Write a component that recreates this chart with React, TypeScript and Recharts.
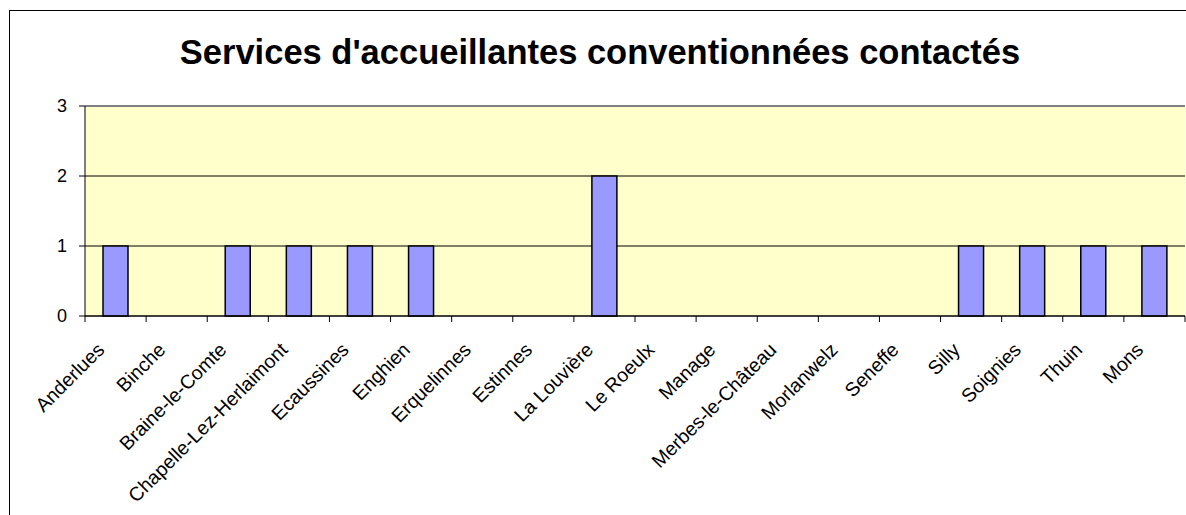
import React from 'react';
import {
    BarChart,
    Bar,
    XAxis,
    YAxis,
    CartesianGrid,
    ReferenceLine
} from 'recharts';

const communes = [
    'Anderlues',
    'Binche',
    'Braine-le-Comte',
    'Chapelle-Lez-Herlaimont',
    'Ecaussines',
    'Enghien',
    'Erquelinnes',
    'Estinnes',
    'La Louvière',
    'Le Roeulx',
    'Manage',
    'Merbes-le-Château',
    'Morlanwelz',
    'Seneffe',
    'Silly',
    'Soignies',
    'Thuin',
    'Mons'
];
const services = [1, 0, 1, 1, 1, 1, 0, 0, 2, 0, 0, 0, 0, 0, 1, 1, 1, 1];
const yTicks = [0, 1, 2, 3];
const title = "Services d'accueillantes conventionnées contactés";

const FONT = '"Liberation Sans", Arial, sans-serif';

// category labels rotated like Excel, tick marks on the category edges
const CommuneTick = (props: any) => {
    const { x, y, payload, index, visibleTicksCount, width } = props;
    const half = payload.offset ?? width / visibleTicksCount / 2;
    const tx = x - 10;
    const ty = y + 35;
    return (
        <g>
            <line x1={x - half} x2={x - half} y1={y} y2={y + 6} stroke="#000" />
            {index === visibleTicksCount - 1 && (
                <line x1={x + half} x2={x + half} y1={y} y2={y + 6} stroke="#000" />
            )}
            <text
                x={tx}
                y={ty}
                transform={`rotate(-45, ${tx}, ${ty})`}
                textAnchor="end"
                fontSize={19.5}
                fontFamily={FONT}
                fill="#000"
            >
                {payload.value}
            </text>
        </g>
    );
};

export default function App() {
    const data = communes.map((name, i) => ({ name, value: services[i] }));

    return (
        <div style={{ position: 'fixed', left: 0, top: 0, width: 1186, height: 515, overflow: 'hidden', background: '#fff' }}>
            <div
                style={{
                    position: 'absolute',
                    left: 9,
                    top: 10,
                    width: 1200,
                    height: 600,
                    borderLeft: '1px solid #000',
                    borderTop: '1px solid #000'
                }}
            />
            <div
                style={{
                    position: 'absolute',
                    left: 0,
                    top: 35,
                    width: 1200,
                    textAlign: 'center',
                    fontFamily: FONT,
                    fontWeight: 'bold',
                    fontSize: 34.5,
                    lineHeight: 1,
                    color: '#000'
                }}
            >
                {title}
            </div>
            <div style={{ position: 'absolute', left: 0, top: 0 }}>
                <BarChart width={1186} height={515} data={data} margin={{ top: 106, right: 1, left: 0, bottom: 0 }}>
                    <CartesianGrid vertical={false} stroke="#000" fill="#FFFFCC" />
                    <XAxis
                        dataKey="name"
                        interval={0}
                        height={199}
                        tickSize={0}
                        tickMargin={0}
                        tickLine={false}
                        axisLine={{ stroke: '#000' }}
                        tick={<CommuneTick />}
                    />
                    <YAxis
                        width={85}
                        domain={[0, 3]}
                        ticks={yTicks}
                        interval={0}
                        tickSize={6}
                        tickMargin={12}
                        axisLine={{ stroke: '#000' }}
                        tickLine={{ stroke: '#000' }}
                        tick={{ fill: '#000', fontSize: 18, fontFamily: FONT }}
                    />
                    <YAxis
                        yAxisId="frame"
                        orientation="right"
                        width={0}
                        domain={[0, 3]}
                        tick={false}
                        tickLine={false}
                        axisLine={{ stroke: '#808080', strokeWidth: 2 }}
                    />
                    <ReferenceLine y={3} stroke="#808080" strokeWidth={2} ifOverflow="visible" />
                    <Bar
                        dataKey="value"
                        fill="#9999FF"
                        stroke="#000"
                        strokeWidth={1.5}
                        barSize={25}
                        isAnimationActive={false}
                    />
                </BarChart>
            </div>
        </div>
    );
}
